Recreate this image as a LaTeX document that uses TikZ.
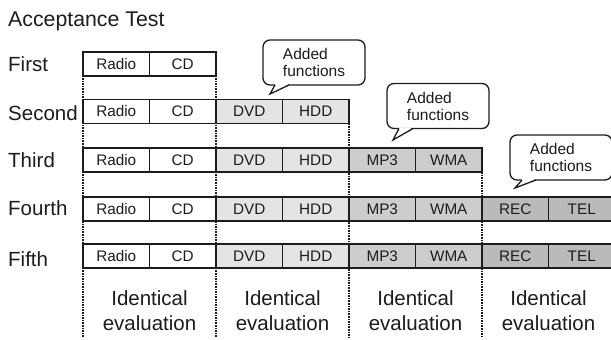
\documentclass[tikz,border=0pt]{standalone}
\usepackage{fontspec}
\setmainfont{Liberation Sans}
\usetikzlibrary{calc}
\definecolor{ink}{HTML}{1C1C1C}
\definecolor{shadeA}{HTML}{E4E4E4}
\definecolor{shadeB}{HTML}{CDCDCD}
\definecolor{shadeC}{HTML}{BABABA}
\begin{document}
\begin{tikzpicture}[x=1pt,y=-1pt,
  cell/.style={draw=ink, line width=1.3pt, minimum width=66.5pt, minimum height=24pt,
    inner sep=0pt, outer sep=0pt, font=\fontsize{15.3}{18}\selectfont, text=ink},
  rowlab/.style={anchor=base west, inner sep=0pt, font=\fontsize{20.5}{24}\selectfont, text=ink},
  evallab/.style={align=center, font=\fontsize{20.5}{25}\selectfont, text=ink, inner sep=0pt},
  bubble/.style={draw=ink, line width=1.3pt, fill=white, rounded corners=7pt,
    minimum width=102pt, minimum height=45pt, align=left, inner sep=0pt, outer sep=0pt,
    font=\fontsize{15.5}{17}\selectfont, text=ink},
  pointer/.style={draw=ink, line width=1.3pt, line join=miter},
  dotline/.style={draw=ink, line width=2.2pt, dash pattern=on 1.6pt off 1pt}]
\useasboundingbox (0,0) rectangle (611,340);

% title and row labels
\node[rowlab, font=\fontsize{21.3}{25}\selectfont] (title) at (8,27) {Acceptance Test};
\node[rowlab] (l1) at (8,71) {First};
\node[rowlab] (l2) at (8,120) {Second};
\node[rowlab] (l3) at (8,167) {Third};
\node[rowlab] (l4) at (8,215) {Fourth};
\node[rowlab] (l5) at (8,266) {Fifth};

% function cells of each test run
\foreach \r/\y/\n in {1/64/2, 2/111.5/4, 3/160/6, 4/209/8, 5/256/8}{
  \foreach \c/\t/\f in {1/Radio/white, 2/CD/white, 3/DVD/shadeA, 4/HDD/shadeA,
                        5/MP3/shadeB, 6/WMA/shadeB, 7/REC/shadeC, 8/TEL/shadeC}{
    \ifnum\c>\n\else
      \node[cell, fill=\f] (r\r c\c) at ({83+66.5*(\c-0.5)}, \y) {\t};
    \fi
  }
}

% dotted separators of the evaluation groups
\coordinate (floor) at (0,337);
\draw[dotline] (r1c1.north west) -- (r1c1.north west |- floor);
\draw[dotline] (r1c2.north east) -- (r1c2.north east |- floor);
\draw[dotline] (r2c4.south east) -- (r2c4.south east |- floor);
\draw[dotline] (r3c6.south east) -- (r3c6.south east |- floor);

% group captions
\node[evallab] (e1) at (149.5,311) {Identical\\evaluation};
\node[evallab] (e2) at (282.5,311) {Identical\\evaluation};
\node[evallab] (e3) at (415.5,311) {Identical\\evaluation};
\node[evallab] (e4) at (548.5,311) {Identical\\evaluation};

% speech bubbles
\node[bubble] (c1) at (314,62.5) {Added\\functions};
\node[bubble] (c2) at (438,106) {Added\\functions};
\node[bubble] (c3) at (561,157.5) {Added\\functions};
\coordinate (t1) at (270,94);
\coordinate (t2) at (393,140);
\coordinate (t3) at (515,188);
\foreach \b/\t in {c1/t1, c2/t2, c3/t3}{
  \fill[white] ($(\b.south west)+(12.3,-1)$) -- (\t) -- ($(\b.south west)+(25.7,-1)$) -- cycle;
  \draw[pointer] ($(\b.south west)+(12,0)$) -- (\t) -- ($(\b.south west)+(26,0)$);
}
\end{tikzpicture}
\end{document}
